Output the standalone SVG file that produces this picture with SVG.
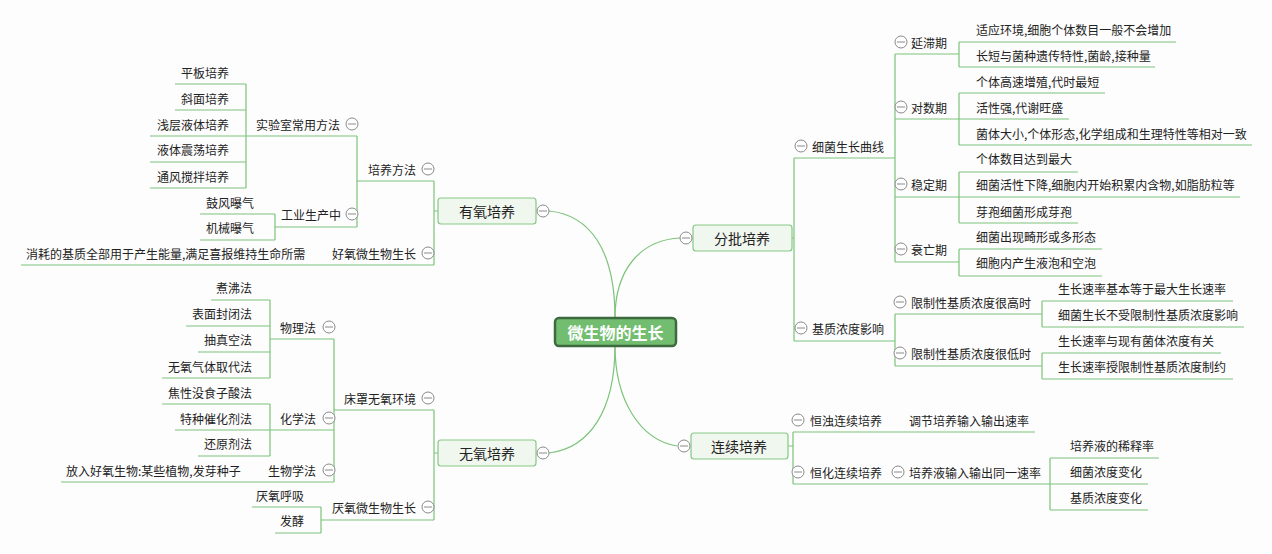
<svg xmlns="http://www.w3.org/2000/svg" width="1272" height="554" viewBox="0 0 1272 554">
<style>
text{font-family:"Noto Sans CJK SC","Noto Sans",sans-serif;font-size:12px;fill:#222;dominant-baseline:central}
.e{text-anchor:end}
.m{font-size:14px;text-anchor:middle}
.c{font-size:16px;text-anchor:middle;fill:#fff;font-weight:bold}
.l{fill:none;stroke:#7cc47a;stroke-width:1.2}
.b{fill:#f0f7ef;stroke:#86c985;stroke-width:1.2}
.o{fill:#fff;stroke:#8a8a8a;stroke-width:1}
</style>
<defs><g id="ci"><circle r="6" class="o"/><line x1="-4" x2="4" y1="0" y2="0" stroke="#8a8a8a"/></g></defs>
<rect width="1272" height="554" fill="#fdfdfd"/>
<g id="connectors" class="l">
<path d="M615 318 C615 250 590 215 549 211"/>
<path d="M615 346 C615 410 590 448 549 453"/>
<path d="M615 318 C615 270 640 240 680 238"/>
<path d="M615 346 C615 400 640 440 677 446"/>
<!-- 有氧 -->
<path d="M438 211 H434 M434 181 V265 M362 181 H434 M21 265 H434"/>
<path d="M362 181 H357 M357 136 V227 M248 136 H357 M277 227 H357"/>
<path d="M248 136 H246 M246 84 V188 M175 84 H246 M175 110 H246 M150 136 H246 M150 162 H246 M150 188 H246"/>
<path d="M277 227 H275 M275 214 V240 M200 214 H275 M200 240 H275"/>
<!-- 无氧 -->
<path d="M438 453 H434 M434 410 V520 M337 410 H434 M323 520 H434"/>
<path d="M337 410 H334 M334 339 V482 M273 339 H334 M273 430 H334 M61 482 H334"/>
<path d="M273 339 H270 M270 300 V378 M211 300 H270 M186 326 H270 M198 352 H270 M162 378 H270"/>
<path d="M273 430 H270 M270 404 V456 M162 404 H270 M175 430 H270 M198 456 H270"/>
<path d="M323 520 H321 M321 507 V533 M252 507 H321 M275 533 H321"/>
<!-- 分批 -->
<path d="M792 238 H794 M794 158 V341 M794 158 H893 M794 341 H891"/>
<path d="M893 158 H895 M895 54 V262 M895 54 H957 M895 119 H957 M895 197 H957 M895 262 H957"/>
<path d="M957 54 H959 M959 42 V67 M959 42 H1176 M959 67 H1155"/>
<path d="M957 119 H959 M959 93 V145 M959 93 H1105 M959 119 H1069 M959 145 H1252"/>
<path d="M957 197 H959 M959 172 V223 M959 172 H1078 M959 197 H1240 M959 223 H1078"/>
<path d="M957 262 H959 M959 249 V276 M959 249 H1102 M959 276 H1102"/>
<path d="M891 341 H895 M895 314 V366 M895 314 H1040 M895 366 H1040"/>
<path d="M1040 314 H1042 M1042 301 V327 M1042 301 H1233 M1042 327 H1244"/>
<path d="M1040 366 H1042 M1042 353 V379 M1042 353 H1221 M1042 379 H1233"/>
<!-- 连续 -->
<path d="M788 446 H793 M793 432 V484 M793 432 H1035 M793 484 H893"/>
<path d="M893 484 H1048 M1050 458 V510 M1048 484 H1050 M1050 458 H1159 M1050 484 H1148 M1050 510 H1148"/>
</g>
<g id="center"><rect x="555" y="318" width="121" height="28" rx="4" fill="#72bd70" stroke="#3e6a3f" stroke-width="2.5"/><text x="615.5" y="332" class="c">微生物的生长</text></g>
<g id="youyang"><rect x="438" y="198" width="98" height="26" rx="3" class="b"/><text x="487" y="211" class="m">有氧培养</text><use href="#ci" x="543" y="211"/></g>
<g id="wuyang"><rect x="438" y="440" width="98" height="26" rx="3" class="b"/><text x="487" y="453" class="m">无氧培养</text><use href="#ci" x="543" y="453"/></g>
<g id="fenpi"><rect x="693" y="225" width="99" height="26" rx="3" class="b"/><text x="742" y="238" class="m">分批培养</text><use href="#ci" x="686" y="238"/></g>
<g id="lianxu"><rect x="691" y="433" width="97" height="26" rx="3" class="b"/><text x="739" y="446" class="m">连续培养</text><use href="#ci" x="684" y="446"/></g>
<g id="left-a">
<text x="416" y="169" class="e">培养方法</text><use href="#ci" x="428" y="169"/>
<text x="416" y="253" class="e">好氧微生物生长</text><use href="#ci" x="428" y="253"/>
<text x="26" y="253">消耗的基质全部用于产生能量,满足喜报维持生命所需</text>
<text x="340" y="124" class="e">实验室常用方法</text><use href="#ci" x="352" y="124"/>
<text x="341" y="214" class="e">工业生产中</text><use href="#ci" x="352" y="214"/>
<text x="229" y="72" class="e">平板培养</text>
<text x="229" y="98" class="e">斜面培养</text>
<text x="229" y="124" class="e">浅层液体培养</text>
<text x="229" y="149" class="e">液体震荡培养</text>
<text x="229" y="176" class="e">通风搅拌培养</text>
<text x="254" y="202" class="e">鼓风曝气</text>
<text x="254" y="227" class="e">机械曝气</text>
</g>
<g id="left-b">
<text x="416" y="398" class="e">床罩无氧环境</text><use href="#ci" x="428" y="398"/>
<text x="416" y="507" class="e">厌氧微生物生长</text><use href="#ci" x="428" y="507"/>
<text x="316" y="327" class="e">物理法</text><use href="#ci" x="329" y="327"/>
<text x="316" y="418" class="e">化学法</text><use href="#ci" x="329" y="418"/>
<text x="316" y="470" class="e">生物学法</text><use href="#ci" x="329" y="470"/>
<text x="66" y="470">放入好氧生物:某些植物,发芽种子</text>
<text x="252" y="287" class="e">煮沸法</text>
<text x="252" y="313" class="e">表面封闭法</text>
<text x="252" y="339" class="e">抽真空法</text>
<text x="252" y="366" class="e">无氧气体取代法</text>
<text x="252" y="392" class="e">焦性没食子酸法</text>
<text x="252" y="418" class="e">特种催化剂法</text>
<text x="252" y="443" class="e">还原剂法</text>
<text x="304" y="495" class="e">厌氧呼吸</text>
<text x="304" y="520" class="e">发酵</text>
</g>
<g id="right-a">
<use href="#ci" x="801" y="146"/><text x="812" y="146">细菌生长曲线</text>
<use href="#ci" x="801" y="328"/><text x="812" y="328">基质浓度影响</text>
<use href="#ci" x="901" y="42"/><text x="911" y="42">延滞期</text>
<use href="#ci" x="901" y="107"/><text x="911" y="107">对数期</text>
<use href="#ci" x="901" y="184"/><text x="911" y="184">稳定期</text>
<use href="#ci" x="901" y="249"/><text x="911" y="249">衰亡期</text>
<text x="976" y="29">适应环境,细胞个体数目一般不会增加</text>
<text x="976" y="55">长短与菌种遗传特性,菌龄,接种量</text>
<text x="976" y="81">个体高速增殖,代时最短</text>
<text x="976" y="107">活性强,代谢旺盛</text>
<text x="976" y="133">菌体大小,个体形态,化学组成和生理特性等相对一致</text>
<text x="976" y="158">个体数目达到最大</text>
<text x="976" y="184">细菌活性下降,细胞内开始积累内含物,如脂肪粒等</text>
<text x="976" y="211">芽孢细菌形成芽孢</text>
<text x="976" y="236">细菌出现畸形或多形态</text>
<text x="976" y="262">细胞内产生液泡和空泡</text>
<use href="#ci" x="900" y="302"/><text x="911" y="302">限制性基质浓度很高时</text>
<use href="#ci" x="900" y="353"/><text x="911" y="353">限制性基质浓度很低时</text>
<text x="1058" y="288">生长速率基本等于最大生长速率</text>
<text x="1058" y="314">细菌生长不受限制性基质浓度影响</text>
<text x="1058" y="340">生长速率与现有菌体浓度有关</text>
<text x="1058" y="366">生长速率授限制性基质浓度制约</text>
</g>
<g id="right-b">
<use href="#ci" x="798" y="420"/><text x="810" y="420">恒浊连续培养</text>
<text x="909" y="420">调节培养输入输出速率</text>
<use href="#ci" x="798" y="472"/><text x="810" y="472">恒化连续培养</text>
<use href="#ci" x="898" y="472"/><text x="909" y="472">培养液输入输出同一速率</text>
<text x="1070" y="445">培养液的稀释率</text>
<text x="1070" y="471">细菌浓度变化</text>
<text x="1070" y="497">基质浓度变化</text>
</g>
</svg>
